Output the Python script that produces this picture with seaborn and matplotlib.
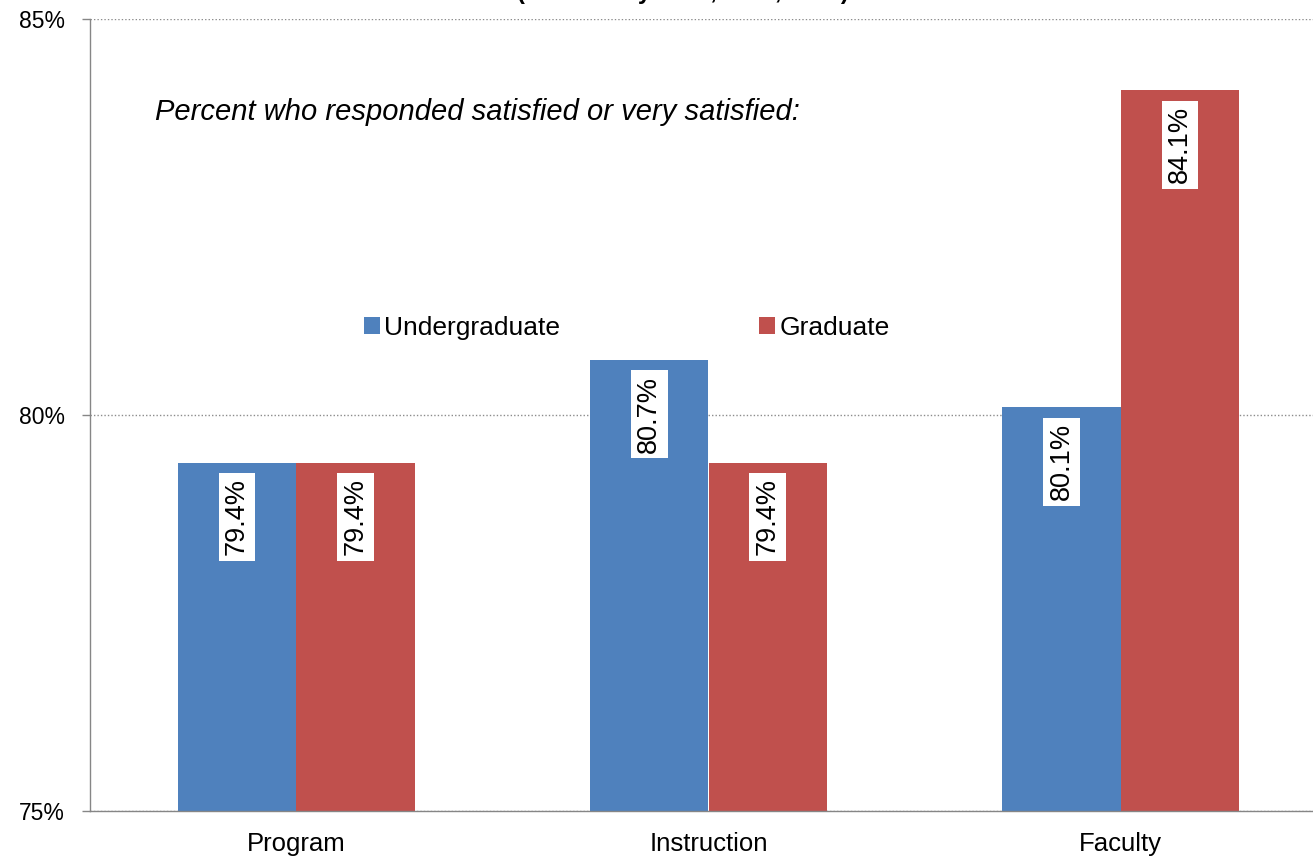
import matplotlib
matplotlib.use("Agg")
import matplotlib.pyplot as plt
import seaborn as sns
import pandas as pd

categories = ["Program", "Instruction", "Faculty"]
groups = ["Undergraduate", "Graduate"]
undergrad = [79.4, 80.7, 80.1]
grad = [79.4, 79.4, 84.1]
colors = ["#4F81BD", "#C0504D"]

df = pd.DataFrame({
    "Category": categories * 2,
    "Group": [groups[0]] * 3 + [groups[1]] * 3,
    "Percent": undergrad + grad,
})

sns.set_style("white")
plt.rcParams["font.family"] = ["Liberation Sans", "DejaVu Sans"]
plt.rcParams["text.color"] = "black"
plt.rcParams["xtick.labelcolor"] = "black"
plt.rcParams["ytick.labelcolor"] = "black"

fig = plt.figure(figsize=(13.13, 8.6), dpi=100)
ax = fig.add_axes([90 / 1313, 49 / 860, 1237 / 1313, 792 / 860])

sns.barplot(data=df, x="Category", y="Percent", hue="Group", order=categories,
            hue_order=groups, palette=colors, width=0.574, linewidth=0,
            saturation=1, ax=ax)

ax.set_ylim(75, 85)
ax.set_xlim(-0.5, 2.5)
ax.set_yticks([75, 80, 85])
ax.set_yticklabels(["75%", "80%", "85%"], fontsize=16.5)
ax.set_xlabel("")
ax.set_ylabel("")
ax.tick_params(axis="x", which="major", length=0, labelsize=18.5, pad=15)
ax.set_xticks([-0.5, 0.5, 1.5, 2.5], minor=True)
ax.tick_params(axis="x", which="minor", length=7, color="#868686", width=1)
ax.tick_params(axis="y", length=6, color="#868686", width=1, pad=12, left=True)
ax.yaxis.grid(True, linestyle=(0, (1, 1.5)), color="#8c8c8c", linewidth=1)
ax.set_axisbelow(True)
for s in ["top", "right"]:
    ax.spines[s].set_visible(False)
for s in ["left", "bottom"]:
    ax.spines[s].set_color("#868686")
    ax.spines[s].set_linewidth(1)

for cont in ax.containers:
    for bar in cont:
        h = bar.get_height()
        ax.annotate(f"{h:.1f}%", (bar.get_x() + bar.get_width() / 2, h),
                    xytext=(0, -11.5), textcoords="offset points",
                    rotation=90, ha="center", va="top", fontsize=19.5,
                    bbox=dict(boxstyle="square,pad=0.2", fc="white", ec="none"))

ax.text(155 / 1313, 1 - 112 / 860, "Percent who responded satisfied or very satisfied:",
        transform=fig.transFigure, fontsize=21, style="italic", va="center", ha="left")

leg = ax.legend(loc="center", bbox_to_anchor=(627 / 1313, 1 - 328 / 860),
                bbox_transform=fig.transFigure, ncol=2, frameon=False,
                fontsize=19, handlelength=0.6, handleheight=0.6, handletextpad=0.15,
                columnspacing=7.55)

fig.text(683 / 1313, 1 + 1 / 860, "(Fall Survey 2010, 2011, 2012)", fontsize=17,
         fontweight="bold", ha="center", va="baseline")

fig.savefig("out.png", dpi=100)
